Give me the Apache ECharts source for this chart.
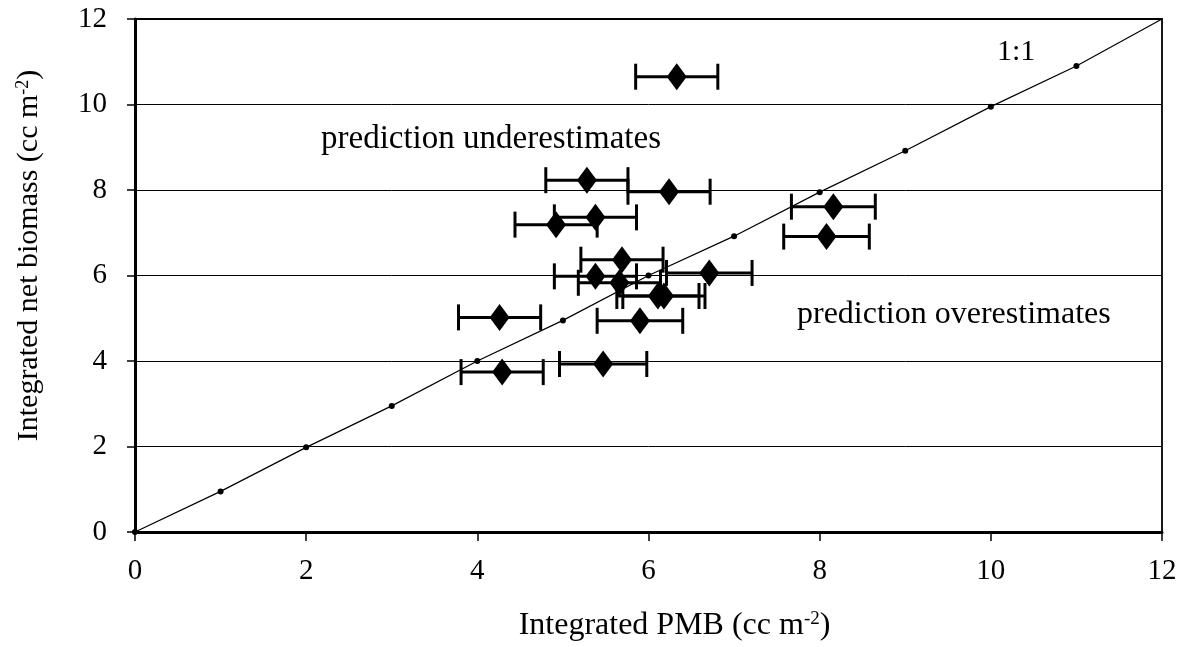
<!DOCTYPE html>
<html><head><meta charset="utf-8">
<script src="https://cdn.jsdelivr.net/npm/echarts@6/dist/echarts.min.js"></script>
<style>html,body{margin:0;padding:0;background:#fff}#c{width:1186px;height:647px}</style>
</head><body><div id="c"></div>
<script>
// Data
var pmbX   = [6.33, 5.28, 6.24, 4.92, 5.38, 8.16, 8.08, 5.69, 5.38, 6.71, 5.66, 6.11, 6.18, 4.26, 5.90, 4.29, 5.47];
var netY   = [10.65, 8.23, 7.96, 7.19, 7.36, 7.61, 6.91, 6.37, 5.98, 6.06, 5.83, 5.52, 5.52, 5.02, 4.94, 3.74, 3.93];
var pmbErr = [0.48, 0.48, 0.48, 0.48, 0.48, 0.49, 0.50, 0.48, 0.48, 0.50, 0.48, 0.48, 0.48, 0.48, 0.50, 0.48, 0.51];
var oneX   = [0, 1, 2, 3, 4, 5, 6, 7, 8, 9, 10, 11, 12];
var oneY   = [0, 0.95, 1.98, 2.95, 4.0, 4.95, 6.0, 6.92, 7.95, 8.92, 9.95, 10.9, 12];
var xTicks = [0, 2, 4, 6, 8, 10, 12];
var yTicks = [0, 2, 4, 6, 8, 10, 12];

var FONT = '"Liberation Serif", "DejaVu Serif", serif';
var chart = echarts.init(document.getElementById('c'));

var pts = pmbX.map(function (x, i) { return [x, netY[i]]; });
var errData = pmbX.map(function (x, i) { return [x - pmbErr[i], x + pmbErr[i], netY[i]]; });
var lineData = oneX.map(function (x, i) { return [x, oneY[i]]; });

function supRich(size) {
  return { sup: { fontFamily: FONT, fontSize: size, color: '#000', verticalAlign: 'top', padding: [0, 0, 12, 0] } };
}

chart.setOption({
  backgroundColor: '#fff',
  animation: false,
  grid: { left: 135, right: 24, top: 19, bottom: 112, show: true, borderColor: '#000', borderWidth: 1.8 },
  xAxis: {
    type: 'value', min: 0, max: 12, interval: 2,
    name: 'Integrated PMB (cc m{sup|-2})', nameLocation: 'middle', nameGap: 78,
    nameTextStyle: { fontFamily: FONT, fontSize: 32, color: '#000', rich: supRich(19), padding: [0, 0, 0, 52] },
    axisLine: { show: true, onZero: false, lineStyle: { color: '#000', width: 3 } },
    axisTick: { show: true, inside: false, length: 9, lineStyle: { color: '#000', width: 1.5 } },
    axisLabel: { fontFamily: FONT, fontSize: 29, color: '#000', margin: 25,
      formatter: function (v) { return xTicks.indexOf(v) >= 0 ? String(v) : ''; } },
    splitLine: { show: false }
  },
  yAxis: {
    type: 'value', min: 0, max: 12, interval: 2,
    name: 'Integrated net biomass (cc m{sup|-2})', nameLocation: 'middle', nameGap: 91, nameRotate: 90,
    nameTextStyle: { fontFamily: FONT, fontSize: 30, color: '#000', rich: supRich(18), padding: [0, 0, 0, 40] },
    axisLine: { show: true, onZero: false, lineStyle: { color: '#000', width: 3 } },
    axisTick: { show: true, inside: false, length: 8, lineStyle: { color: '#000', width: 1.5 } },
    axisLabel: { fontFamily: FONT, fontSize: 29, color: '#000', margin: 28,
      formatter: function (v) { return yTicks.indexOf(v) >= 0 ? String(v) : ''; } },
    splitLine: { show: true, lineStyle: { color: '#000', width: 1 } }
  },
  series: [
    {
      type: 'line', data: lineData, z: 2,
      lineStyle: { color: '#000', width: 1.2 },
      symbol: 'circle',
      symbolSize: function (v) { return v[0] >= 12 ? 0 : 6; },
      itemStyle: { color: '#000' }
    },
    {
      type: 'custom', data: errData, z: 3,
      renderItem: function (params, api) {
        var l = api.coord([api.value(0), api.value(2)]);
        var r = api.coord([api.value(1), api.value(2)]);
        var h = 13;
        var st = { stroke: '#000', lineWidth: 3 };
        return { type: 'group', children: [
          { type: 'line', shape: { x1: l[0], y1: l[1], x2: r[0], y2: r[1] }, style: st },
          { type: 'line', shape: { x1: l[0], y1: l[1] - h, x2: l[0], y2: l[1] + h }, style: st },
          { type: 'line', shape: { x1: r[0], y1: r[1] - h, x2: r[0], y2: r[1] + h }, style: st }
        ] };
      }
    },
    {
      type: 'scatter', data: pts, z: 4,
      symbol: 'diamond', symbolSize: [20, 27],
      itemStyle: { color: '#000', opacity: 1 }
    }
  ],
  graphic: [
    { type: 'text', left: 997, top: 37, style: { text: '1:1', fontFamily: FONT, fontSize: 30, fill: '#000' } },
    { type: 'text', left: 321, top: 123, style: { text: 'prediction underestimates', fontFamily: FONT, fontSize: 33, fill: '#000' } },
    { type: 'text', left: 797, top: 299, style: { text: 'prediction overestimates', fontFamily: FONT, fontSize: 32, fill: '#000' } }
  ]
});
</script>
</body></html>
